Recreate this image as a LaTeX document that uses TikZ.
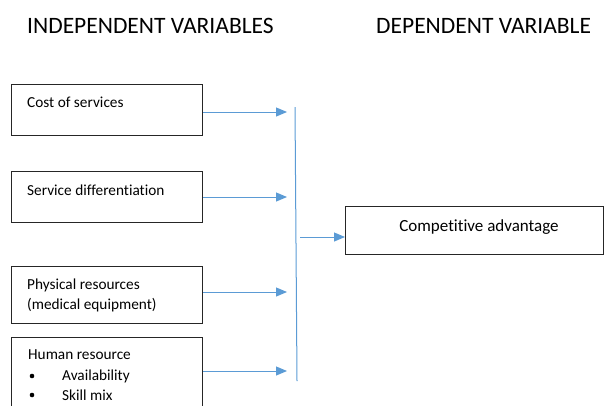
\documentclass[tikz,border=0pt]{standalone}
\usepackage{fontspec}
\setmainfont[Ligatures={NoCommon,NoRare},Contextuals=NoAlternate]{Carlito}
\usetikzlibrary{arrows.meta}
\definecolor{arr}{HTML}{5B9BD5}
\begin{document}
\begin{tikzpicture}[x=1pt,y=-1pt,
  ivbox/.style={draw=black!85,line width=1.3pt,minimum width=191pt,minimum height=51pt,anchor=north west,inner sep=0pt},
  lbl/.style={anchor=west,font=\fontsize{15.3}{17}\selectfont,inner sep=0pt},
  conn/.style={draw=arr,line width=1pt,-{Triangle[length=11pt,width=9pt]}},
  title/.style={font=\fontsize{23.5}{26}\selectfont,inner sep=0pt}]
\useasboundingbox (0,0) rectangle (604,405);
\begin{scope}
\clip (0,0) rectangle (604,405);
\node[title,anchor=west] (t1) at (27,26) {INDEPENDENT VARIABLES};
\node[title,anchor=west] (t2) at (376,26) {DEPENDENT VARIABLE};

\node[ivbox] (b1) at (11,84) {};
\node[ivbox] (b2) at (11,171) {};
\node[ivbox,minimum height=57pt] (b3) at (11,266) {};
\node[ivbox,minimum height=80pt] (b4) at (11,337) {};
\node[draw=black!85,line width=1.3pt,minimum width=258pt,minimum height=48pt,anchor=north west,inner sep=0pt] (dv) at (345,206) {};

\node[lbl] (l1) at (27,102) {Cost of services};
\node[lbl] (l2) at (27,190) {Service differentiation};
\node[lbl] (l3a) at (27,285) {Physical resources};
\node[lbl] (l3b) at (27,305) {(medical equipment)};
\node[lbl] (l4) at (28,355) {Human resource};
\node[lbl] (l4a) at (62,376) {Availability};
\node[lbl] (l4b) at (62,395) {Skill mix};
\fill (32,376) circle (2.3pt);
\fill (32,395) circle (2.3pt);
\node[font=\fontsize{17}{19}\selectfont,inner sep=0pt] (l5) at (479,227) {Competitive advantage};

\coordinate (vt) at (295,107);
\coordinate (vb) at (297,381);
\draw[draw=arr,line width=1pt] (vt) -- (vb);

\coordinate (e1) at (287,112);
\coordinate (e2) at (287,197);
\coordinate (e3) at (287,292);
\coordinate (e4) at (287,371);
\coordinate (s5) at (300,237);
\draw[conn] (b1.east |- e1) -- (e1);
\draw[conn] (b2.east |- e2) -- (e2);
\draw[conn] (b3.east |- e3) -- (e3);
\draw[conn] (b4.east |- e4) -- (e4);
\draw[conn] (s5) -- (dv.west |- s5);
\end{scope}
\end{tikzpicture}
\end{document}
